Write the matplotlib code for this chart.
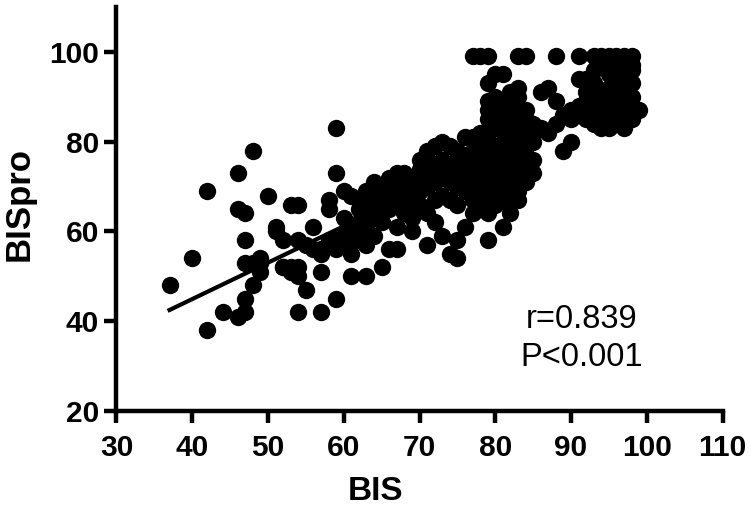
import matplotlib
matplotlib.use('Agg')
import matplotlib.pyplot as plt

plt.rcParams['font.family'] = ['Liberation Sans', 'DejaVu Sans']

# BIS / BISpro pairs
left_x = [37, 40, 42, 42, 44, 46, 46, 46, 47, 47, 47, 47, 47, 48, 48, 48, 49, 49, 49, 50, 51, 51, 52, 52, 52, 53, 53, 53, 54, 54, 54, 54, 54, 55, 55, 56, 56, 57, 57, 57, 57, 58, 58, 58, 58, 59, 59, 59, 59, 59]
left_y = [48, 54, 69, 38, 42, 73, 65, 41, 64, 58, 53, 45, 42, 78, 53, 48, 54, 53, 51, 68, 61, 60, 58, 52, 52, 52, 51, 66, 66, 58, 52, 50, 42, 57, 47, 61, 56, 42, 56, 55, 51, 57, 67, 65, 58, 83, 73, 58, 56, 45]

mid_x = [60, 60, 60, 60, 61, 61, 61, 61, 61, 62, 62, 62, 63, 63, 63, 63, 63, 64, 64, 64, 64, 65, 65, 65, 65, 66, 66, 66, 66, 67, 67, 67, 67, 67, 68, 68, 68, 68, 69, 69, 69, 69, 69, 70, 70, 70, 70, 71, 71, 71, 71, 71, 72, 72, 72, 72, 72, 73, 73, 73, 73, 73, 74, 74, 74, 74, 74, 75, 75, 75, 75, 75, 75]
mid_y = [69, 63, 59, 57, 68, 60, 58, 55, 50, 65, 62, 58, 69, 65, 61, 57, 50, 71, 67, 63, 59, 70, 66, 62, 52, 72, 69, 65, 56, 73, 70, 66, 61, 56, 73, 70, 67, 64, 72, 69, 66, 63, 60, 76, 72, 69, 66, 78, 74, 70, 64, 57, 79, 75, 71, 67, 62, 80, 76, 72, 68, 59, 79, 75, 71, 67, 55, 78, 74, 70, 66, 58, 54]

dense_x = [76, 76, 76, 76, 76, 77, 77, 77, 77, 77, 77, 77, 78, 78, 78, 78, 78, 78, 78, 79, 79, 79, 79, 79, 79, 79, 79, 79, 79, 79, 80, 80, 80, 80, 80, 80, 80, 80, 80, 81, 81, 81, 81, 81, 81, 81, 81, 81, 81, 82, 82, 82, 82, 82, 82, 82, 82, 82, 83, 83, 83, 83, 83, 83, 83, 83, 83, 84, 84, 84, 84, 84, 84, 85, 85, 85, 85, 85]
dense_y = [81, 77, 73, 69, 61, 81, 78, 74, 70, 67, 64, 99, 82, 78, 75, 71, 68, 65, 99, 93, 89, 85, 82, 78, 74, 70, 67, 64, 58, 99, 95, 87, 83, 79, 75, 71, 68, 66, 72, 95, 88, 84, 80, 76, 72, 69, 67, 61, 78, 91, 86, 82, 78, 74, 70, 67, 64, 88, 92, 88, 84, 80, 76, 72, 69, 67, 99, 85, 81, 77, 73, 71, 99, 84, 80, 76, 73, 82]

fill_x = [70, 71, 72, 73, 74, 75, 76, 76, 77, 77, 78, 78, 79, 79, 80, 80, 80, 81, 81, 82, 82, 83, 83, 84, 84, 79, 79, 82, 84, 65, 66, 68, 68, 64, 62]
fill_y = [74, 72, 73, 74, 73, 72, 75, 71, 76, 72, 73, 69, 76, 72, 90, 77, 73, 86, 74, 84, 80, 90, 78, 83, 75, 87, 80, 76, 87, 68, 67, 71, 68, 69, 67]

right_x = [86, 86, 87, 87, 88, 88, 88, 89, 89, 90, 90, 90, 91, 91, 91, 91, 92, 92, 92, 92, 93, 93, 93, 93, 93, 94, 94, 94, 94, 94, 94, 95, 95, 95, 95, 95, 96, 96, 96, 96, 96, 97, 97, 97, 97, 97, 97, 98, 98, 98, 98, 98, 98, 99, 92, 93, 95, 96, 98, 97]
right_y = [91, 83, 92, 82, 89, 84, 99, 86, 78, 87, 85, 80, 99, 94, 88, 86, 91, 89, 87, 85, 99, 93, 90, 87, 84, 99, 97, 91, 88, 85, 83, 99, 92, 89, 86, 83, 97, 93, 90, 87, 84, 99, 95, 91, 88, 85, 83, 99, 96, 93, 90, 88, 85, 87, 94, 96, 95, 99, 97, 93]

x = left_x + mid_x + dense_x + fill_x + right_x
y = left_y + mid_y + dense_y + fill_y + right_y

# regression line ends
line_x = [37, 98]
line_y = [42.5, 92]

x_ticks = [30, 40, 50, 60, 70, 80, 90, 100, 110]
y_ticks = [20, 40, 60, 80, 100]

fig = plt.figure(figsize=(7.5, 5.09), dpi=100)
ax = fig.add_axes([116.5 / 750, 1 - 411 / 509, (722.5 - 116.5) / 750, (411 - 7) / 509])

ax.scatter(x, y, s=156, c='black', linewidths=0, zorder=2, clip_on=False)
ax.plot(line_x, line_y, color='black', lw=3, zorder=3)

ax.set_xlim(30, 110)
ax.set_ylim(20, 110)
ax.set_xticks(x_ticks)
ax.set_yticks(y_ticks)
ax.spines['top'].set_visible(False)
ax.spines['right'].set_visible(False)
for s in ['left', 'bottom']:
    ax.spines[s].set_linewidth(3.2)
ax.tick_params(width=3.2, length=8.6, labelsize=21.5)
ax.tick_params(axis='x', pad=8)
ax.tick_params(axis='y', pad=4)
for t in ax.get_xticklabels() + ax.get_yticklabels():
    t.set_fontweight('bold')

fig.text(376 / 750, 1 - 491 / 509, 'BIS', fontsize=24, fontweight='bold', ha='center', va='center')
fig.text(19 / 750, 1 - 204 / 509, 'BISpro', fontsize=25, fontweight='bold', rotation=90, ha='center', va='center')

fig.text(582 / 750, 1 - 319 / 509, 'r=0.839', fontsize=23.5, ha='center', va='center')
fig.text(582 / 750, 1 - 357 / 509, 'P<0.001', fontsize=23.5, ha='center', va='center')

fig.savefig('out.png', dpi=100)
